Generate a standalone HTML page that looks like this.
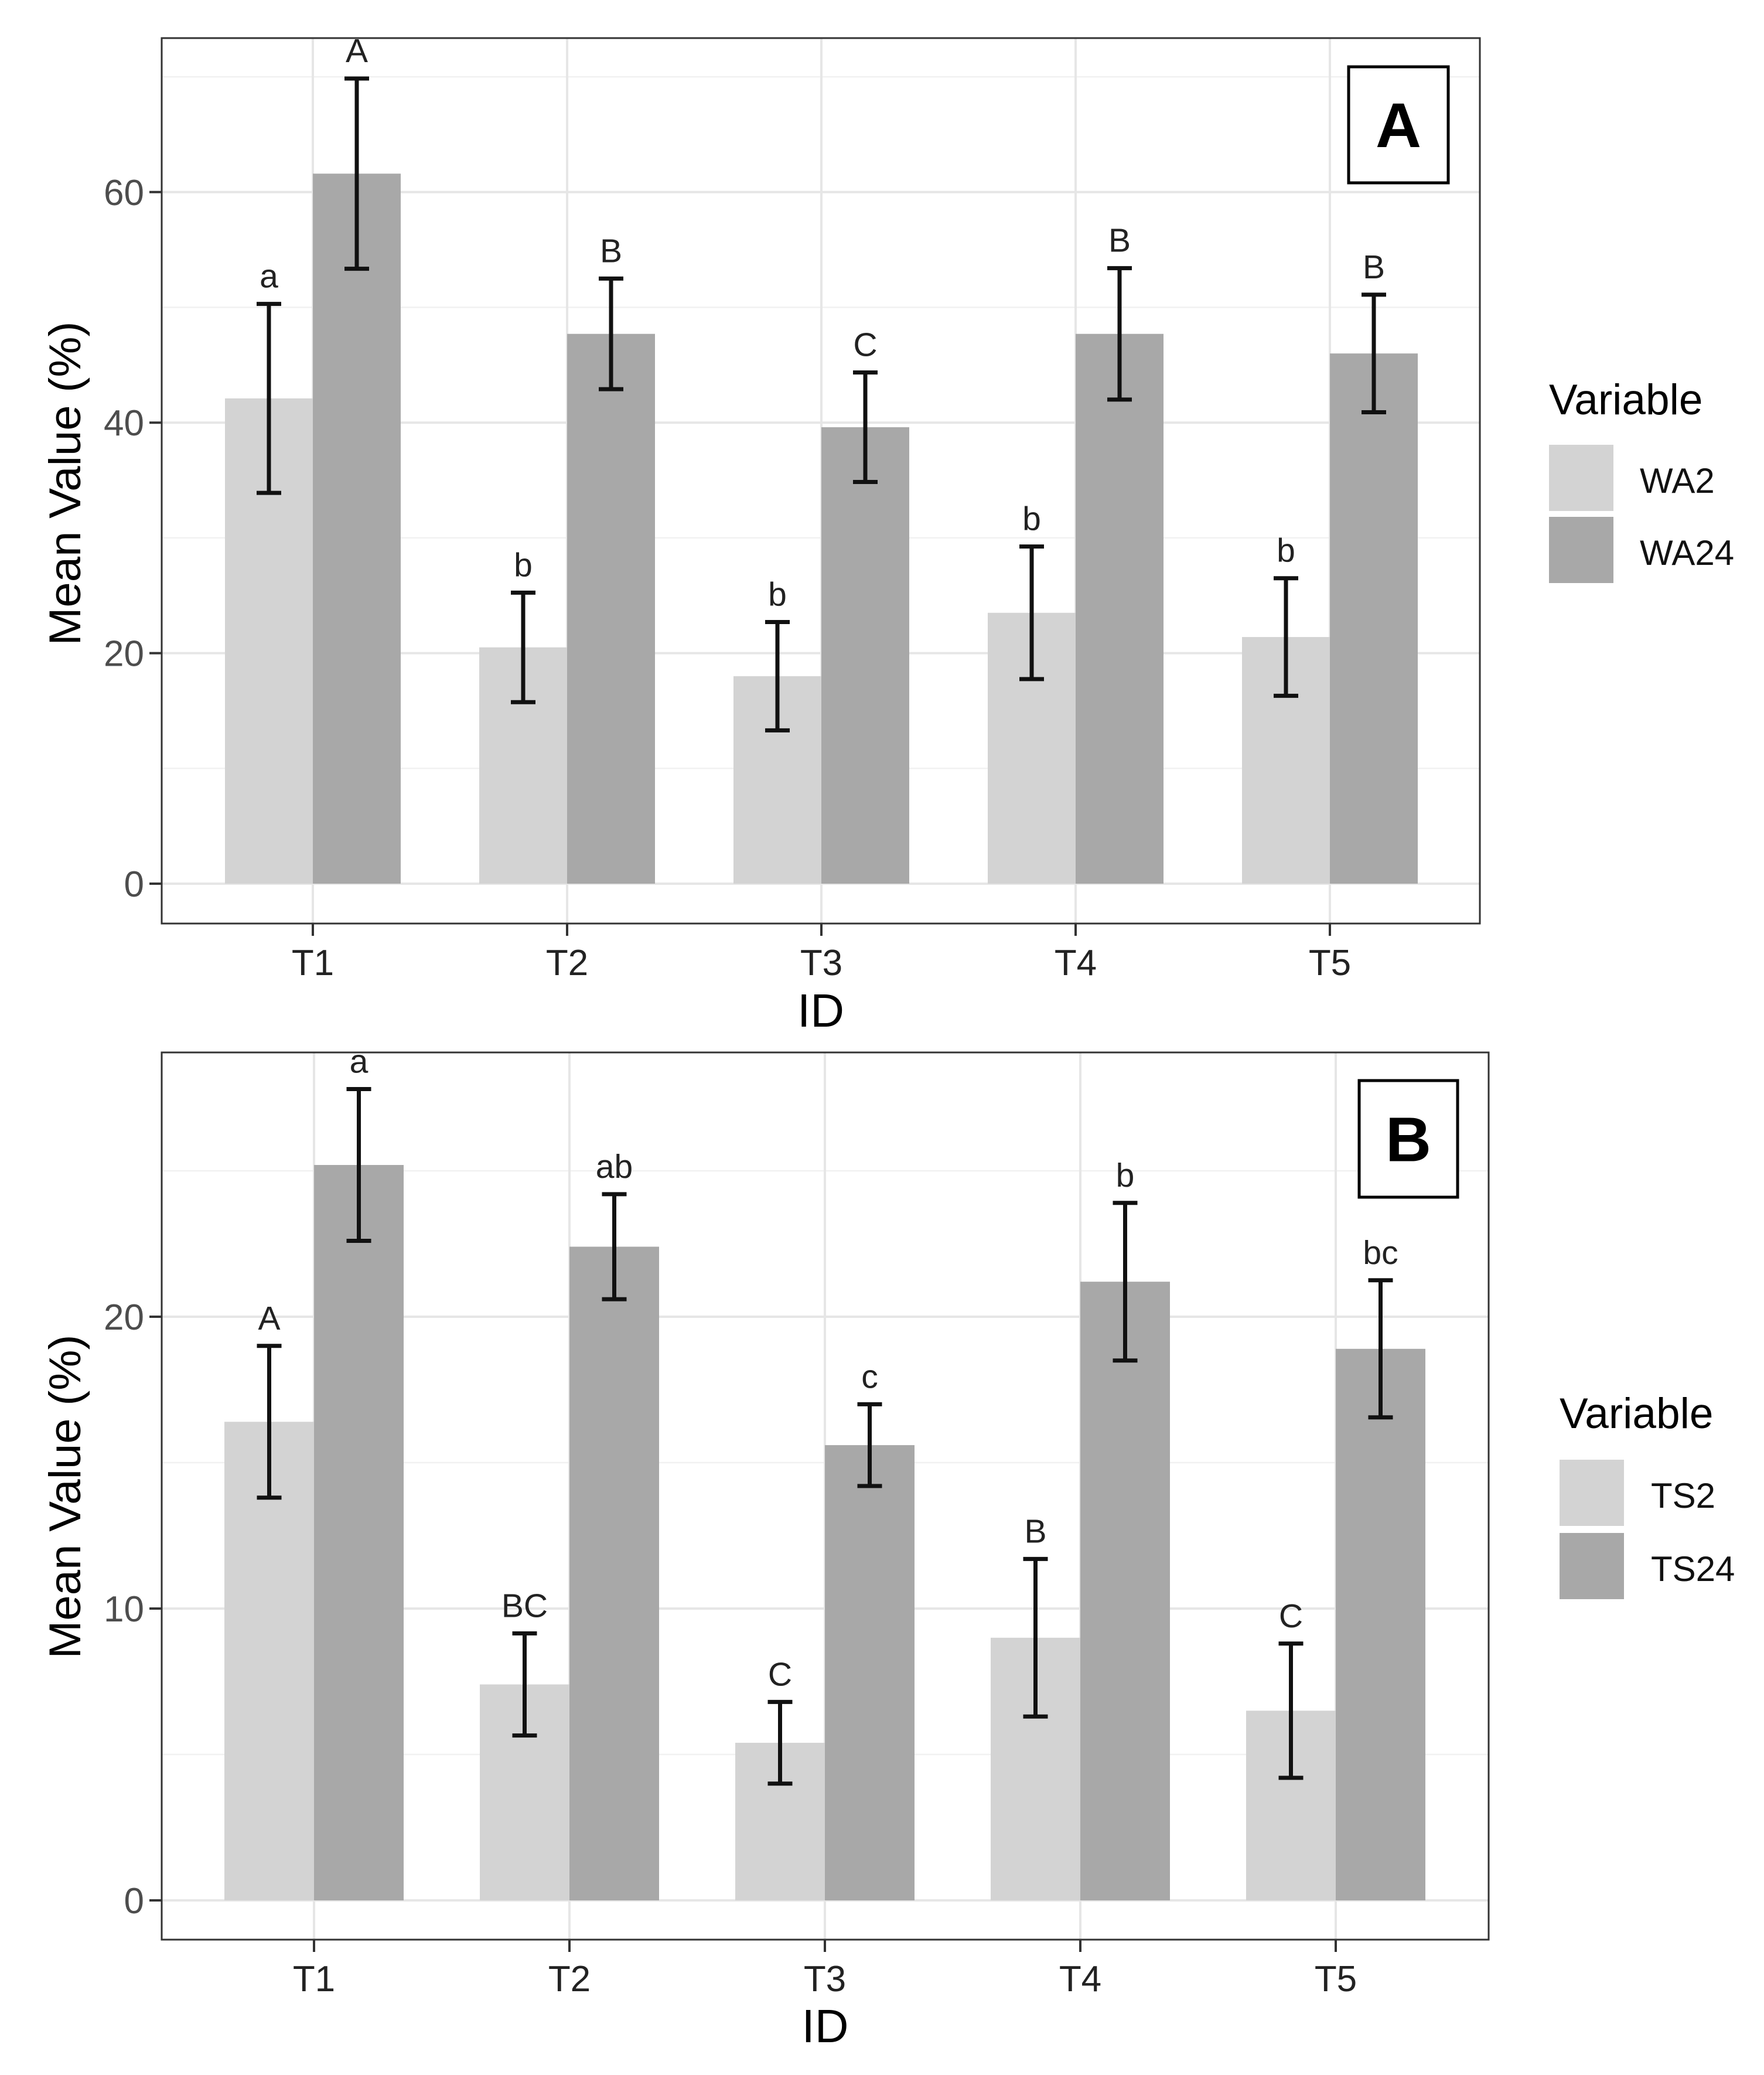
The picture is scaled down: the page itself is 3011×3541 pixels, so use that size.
<!DOCTYPE html>
<html><head><meta charset="utf-8"><style>
html,body{margin:0;padding:0;background:#fff;}
svg{display:block;font-family:"Liberation Sans",Arial,sans-serif;}
</style></head><body>
<svg id="chart" width="3011" height="3541" viewBox="0 0 3011 3541" xmlns="http://www.w3.org/2000/svg"></svg>
<script>
const categories = ["T1","T2","T3","T4","T5"];
// Panel A
const wa2 = [42.1, 20.5, 18.0, 23.5, 21.4];
const wa2Err = [8.2, 4.75, 4.7, 5.75, 5.1];
const wa24 = [61.6, 47.7, 39.6, 47.7, 46.0];
const wa24Err = [8.25, 4.8, 4.75, 5.7, 5.1];
const waLetters2 = ["a","b","b","b","b"];
const waLetters24 = ["A","B","C","B","B"];
const yTicksA = [0, 20, 40, 60];
const yMinorA = [10, 30, 50, 70];
// Panel B
const ts2 = [16.4, 7.4, 5.4, 9.0, 6.5];
const ts2Err = [2.6, 1.75, 1.4, 2.7, 2.3];
const ts24 = [25.2, 22.4, 15.6, 21.2, 18.9];
const ts24Err = [2.6, 1.8, 1.4, 2.7, 2.35];
const tsLetters2 = ["A","BC","C","B","C"];
const tsLetters24 = ["a","ab","c","b","bc"];
const yTicksB = [0, 10, 20];
const yMinorB = [5, 15, 25];

const NS = "http://www.w3.org/2000/svg";
const svg = document.getElementById("chart");
function mk(tag, attrs, parent, text){
  const e = document.createElementNS(NS, tag);
  for (const k in attrs) e.setAttribute(k, attrs[k]);
  if (text !== undefined) e.textContent = text;
  (parent || svg).appendChild(e);
  return e;
}

function panel(cfg){
  const g = mk("g", {});
  
  
  const L = cfg.left, R = cfg.right, T = cfg.top, B = cfg.bottom;
  const yS = v => cfg.y0 - v * cfg.ppu;
  const xS = i => cfg.x0 + i * cfg.step;
  cfg.minor.forEach(v => {
    const l = mk("line", {x1:L, x2:R, y1:yS(v), y2:yS(v), stroke:"#f1f1f1", "stroke-width":2.5}, g);
    
    
  });
  cfg.ticks.forEach(v => {
    const l = mk("line", {x1:L, x2:R, y1:yS(v), y2:yS(v), stroke:"#e6e6e6", "stroke-width":4}, g);
    
    
  });
  categories.forEach((c, i) => {
    const l = mk("line", {x1:xS(i), x2:xS(i), y1:T, y2:B, stroke:"#e6e6e6", "stroke-width":4}, g);
    
    
  });
  const bw = cfg.bw;
  const series = [
    {v:cfg.s1, e:cfg.e1, lab:cfg.l1, col:"#d3d3d3", off:-bw/2, n:cfg.n1},
    {v:cfg.s2, e:cfg.e2, lab:cfg.l2, col:"#a8a8a8", off:bw/2, n:cfg.n2}
  ];
  series.forEach(s => {
    s.v.forEach((v, i) => {
      const cx = xS(i) + s.off;
      const r = mk("rect", {x:cx - bw/2, y:yS(v), width:bw, height:yS(0) - yS(v), fill:s.col}, g);
      
      
    });
  });
  series.forEach(s => {
    s.v.forEach((v, i) => {
      const cx = xS(i) + s.off;
      const hi = yS(v + s.e[i]), lo = yS(v - s.e[i]);
      const eg = mk("g", {stroke:"#111", "stroke-width":7}, g);
      
      
      mk("line", {x1:cx, x2:cx, y1:hi, y2:lo}, eg);
      mk("line", {x1:cx-21, x2:cx+21, y1:hi, y2:hi}, eg);
      mk("line", {x1:cx-21, x2:cx+21, y1:lo, y2:lo}, eg);
      const t = mk("text", {x:cx, y:hi - 28, "font-size":57, fill:"#222", "text-anchor":"middle"}, g, s.lab[i]);
      
      
    });
  });
  const br = mk("rect", {x:L, y:T, width:R-L, height:B-T, fill:"none", stroke:"#333", "stroke-width":3}, g);
  
  
  cfg.ticks.forEach(v => {
    mk("line", {x1:L-21, x2:L, y1:yS(v), y2:yS(v), stroke:"#333", "stroke-width":4}, g);
    const t = mk("text", {x:L-30, y:yS(v)+22, "font-size":62, fill:"#4d4d4d", "text-anchor":"end"}, g, String(v));
    
    
  });
  categories.forEach((c, i) => {
    mk("line", {x1:xS(i), x2:xS(i), y1:B, y2:B+21, stroke:"#333", "stroke-width":4}, g);
    const t = mk("text", {x:xS(i), y:B+88, "font-size":62, fill:"#222", "text-anchor":"middle"}, g, c);
    
    
  });
  const xt = mk("text", {x:(L+R)/2, y:cfg.idY, "font-size":80, fill:"#000", "text-anchor":"middle"}, g, "ID");
  
  
  const yt = mk("text", {x:0, y:0, "font-size":76, fill:"#000", "text-anchor":"middle",
    transform:"translate(137," + cfg.titleY + ") rotate(-90)", textLength:553, lengthAdjust:"spacingAndGlyphs"}, g, "Mean Value (%)");
  
  
  const bx = cfg.box;
  const bb = mk("rect", {x:bx[0], y:bx[1], width:bx[2]-bx[0], height:bx[3]-bx[1], fill:"#fff", stroke:"#000", "stroke-width":5}, g);
  
  
  const bl = mk("text", {x:(bx[0]+bx[2])/2, y:(bx[1]+bx[3])/2 + 38, "font-size":108, "font-weight":"bold", fill:"#000", "text-anchor":"middle"}, g, cfg.letter);
  
  
  const lg = mk("g", {}, g);
  
  
  const lt = mk("text", {x:cfg.leg.x, y:cfg.leg.titleY, "font-size":73, fill:"#000"}, lg, "Variable");
  
  
  [[cfg.n1.toUpperCase(), "#d3d3d3", cfg.leg.sw1], [cfg.n2.toUpperCase(), "#a8a8a8", cfg.leg.sw2]].forEach((e, k) => {
    const sw = mk("rect", {x:cfg.leg.x, y:e[2], width:110, height:113, fill:e[1]}, lg);
    
    
    const tx = mk("text", {x:cfg.leg.tx, y:e[2] + 82, "font-size":60, fill:"#111"}, lg, e[0]);
    
    
  });
}

panel({name:"panel-a", left:276, right:2526, top:65, bottom:1576, y0:1508, ppu:19.67,
  x0:534, step:434, bw:150, ticks:yTicksA, minor:yMinorA,
  s1:wa2, e1:wa2Err, l1:waLetters2, n1:"wa2", s2:wa24, e2:wa24Err, l2:waLetters24, n2:"wa24",
  idY:1752, titleY:825, box:[2302,114,2472,312], letter:"A",
  leg:{x:2644, titleY:707, sw1:759, sw2:882, tx:2799}});
panel({name:"panel-b", left:276, right:2541, top:1796, bottom:3310, y0:3243, ppu:49.8,
  x0:536, step:436, bw:153, ticks:yTicksB, minor:yMinorB,
  s1:ts2, e1:ts2Err, l1:tsLetters2, n1:"ts2", s2:ts24, e2:ts24Err, l2:tsLetters24, n2:"ts24",
  idY:3485, titleY:2554, box:[2320,1844,2488,2043], letter:"B",
  leg:{x:2662, titleY:2437, sw1:2491, sw2:2616, tx:2818}});
</script>
</body></html>
